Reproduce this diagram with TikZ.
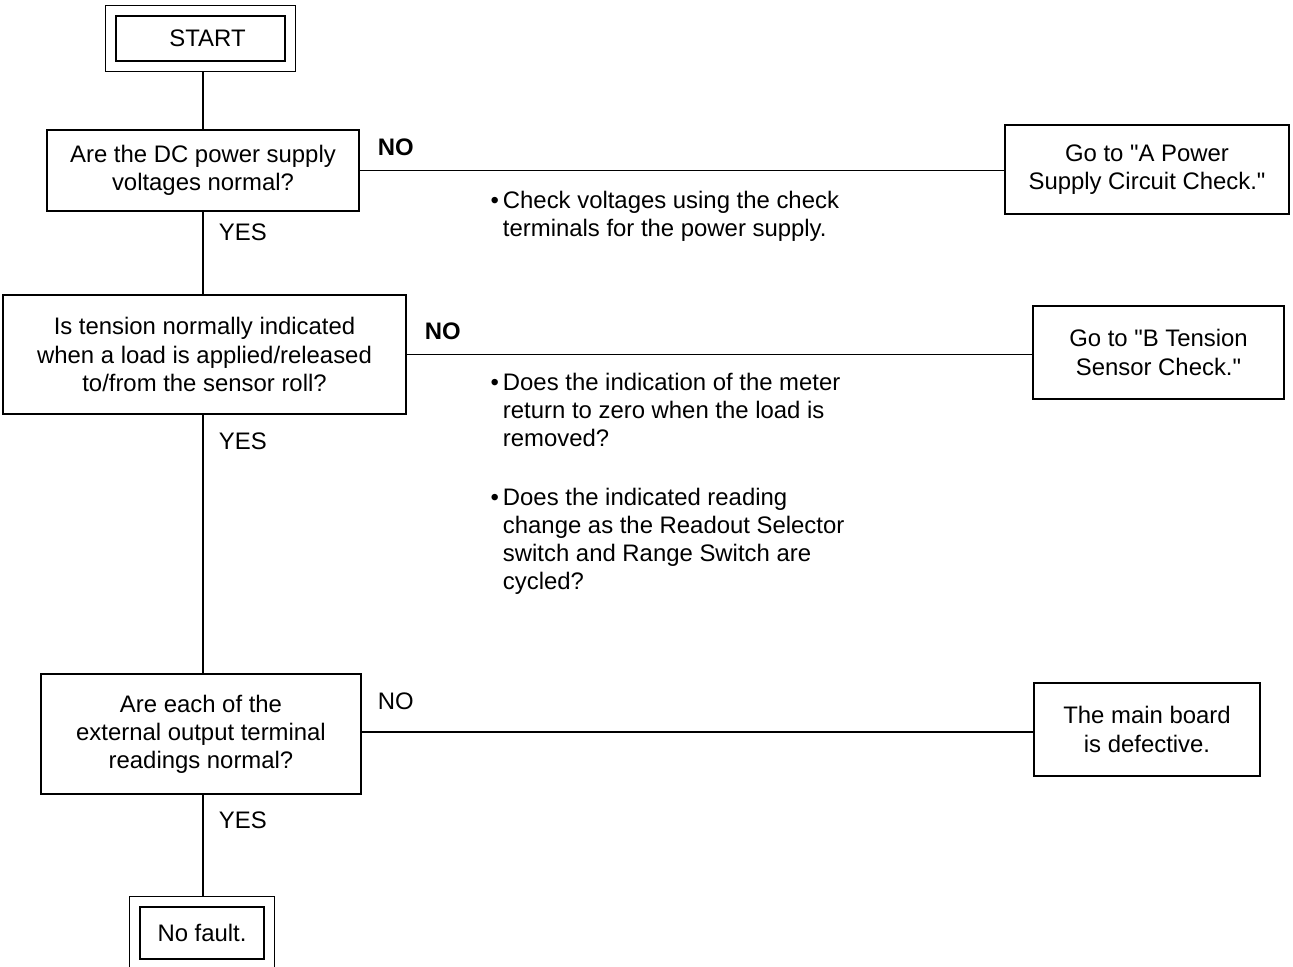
\documentclass[tikz,border=0pt]{standalone}
\usepackage{fontspec}
\setmainfont{Liberation Sans}
\usetikzlibrary{fit}

\begin{document}
\begin{tikzpicture}
	[x=0.02cm, y=-0.02cm, line width=1.1pt, font=\fontsize{13.6pt}{16pt}\selectfont,
	block/.style 2 args={rectangle, draw, inner sep=0pt, align=center, minimum width=#1*0.02cm, minimum height=#2*0.02cm},
	frame/.style={rectangle, draw, line width=1pt, inner xsep=9.5*0.02cm, inner ysep=9.5*0.02cm},
	answer/.style={inner sep=0pt, anchor=west},
	note/.style={inner sep=0pt, align=left, anchor=north west}]
	\useasboundingbox (0,0) rectangle (1293,966);

	% start and end
	\node [block={169}{45}] (start) at (200.5,38.5) {\hspace{8pt}START};
	\node [frame, fit=(start)] (startframe) {};
	\node [block={124}{52}] (nofault) at (202,933) {No fault.};
	\node [frame, fit=(nofault)] (nofaultframe) {};

	% questions
	\node [block={312}{81}] (dcvolt) at (203,170.5) {Are the DC power supply\\voltages normal?};
	\node [block={403}{119}] (tension) at (204.5,354.5) {Is tension normally indicated\\when a load is applied/released\\to/from the sensor roll?};
	\node [block={320}{120}] (extout) at (201,734) {Are each of the\\external output terminal\\readings normal?};

	% results
	\node [block={284}{89}] (powercheck) at (1147,169.5) {Go to \textquotedbl A Power\\Supply Circuit Check.\textquotedbl};
	\node [block={251}{93}] (sensorcheck) at (1158.5,352.5) {Go to \textquotedbl B Tension\\Sensor Check.\textquotedbl};
	\node [block={226}{93}] (mainboard) at (1147,729.5) {The main board\\is defective.};

	% lines
	\draw (dcvolt.north) -- (dcvolt.north |- startframe.south);
	\draw (dcvolt.south) -- (dcvolt.south |- tension.north);
	\draw (dcvolt.south |- tension.south) -- (dcvolt.south |- extout.north);
	\draw (dcvolt.south |- extout.south) -- (dcvolt.south |- nofaultframe.north);
	\draw (dcvolt.east) -- (dcvolt.east -| powercheck.west);
	\draw (tension.east) -- (tension.east -| sensorcheck.west);
	\draw (extout.east |- 0,732) -- (mainboard.west |- 0,732);

	% labels
	\node [answer, font=\fontsize{13.6pt}{16pt}\selectfont\bfseries] (no1) at (377,147) {NO};
	\node [answer] (yes1) at (218,232) {YES};
	\node [answer, font=\fontsize{13.6pt}{16pt}\selectfont\bfseries] (no2) at (424,331) {NO};
	\node [answer] (yes2) at (218,441) {YES};
	\node [answer] (no3) at (377,701) {NO};
	\node [answer] (yes3) at (218,820) {YES};

	% notes
	\node [note] (note1) at (502,190) {\llap{\textbullet\,}Check voltages using the check\\terminals for the power supply.};
	\node [note] (note2) at (502,372) {\llap{\textbullet\,}Does the indication of the meter\\return to zero when the load is\\removed?};
	\node [note] (note3) at (502,487) {\llap{\textbullet\,}Does the indicated reading\\change as the Readout Selector\\switch and Range Switch are\\cycled?};
\end{tikzpicture}
\end{document}
